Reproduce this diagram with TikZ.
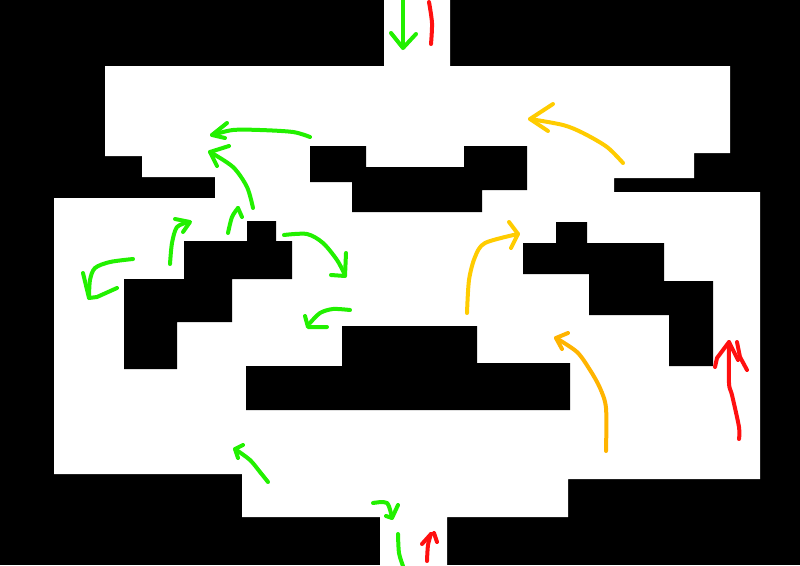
\documentclass[tikz,border=0pt]{standalone}
\definecolor{strokegreen}{HTML}{22F000}
\definecolor{strokeyellow}{HTML}{FFCC00}
\definecolor{strokeorange}{HTML}{FFB400}
\definecolor{strokered}{HTML}{FF1010}
\tikzset{
    wall/.style={fill=black, line join=miter},
    greenstroke/.style={draw=strokegreen, line width=4pt, line cap=round, line join=round},
    yellowstroke/.style={draw=strokeyellow, line width=4pt, line cap=round, line join=round},
    orangestroke/.style={draw=strokeorange, line width=4pt, line cap=round, line join=round},
    redstroke/.style={draw=strokered, line width=4pt, line cap=round, line join=round}
}
\begin{document}
\begin{tikzpicture}[x=1pt, y=-1pt]
    \useasboundingbox (0, 0) rectangle (800, 565);
    % rooms
    \fill[black] (0, 0) rectangle (800, 565);
    \fill[white] (384, 0) -- (450, 0) -- (450, 66) -- (730, 66) -- (730, 153) -- (694, 153) -- (694, 178) -- (614, 178) -- (614, 192) -- (760, 192) -- (760, 479) -- (568, 479) -- (568, 517) -- (447, 517) -- (447, 565) -- (380, 565) -- (380, 517) -- (242, 517) -- (242, 474) -- (54, 474) -- (54, 198) -- (215, 198) -- (215, 177) -- (142, 177) -- (142, 156) -- (105, 156) -- (105, 66) -- (384, 66) -- cycle;
    % blocks
    \fill[wall] (247, 221) -- (276, 221) -- (276, 241) -- (292, 241) -- (292, 279) -- (232, 279) -- (232, 322) -- (177, 322) -- (177, 369) -- (124, 369) -- (124, 279) -- (184, 279) -- (184, 241) -- (247, 241) -- cycle;
    \fill[wall] (310, 146) -- (366, 146) -- (366, 167) -- (464, 167) -- (464, 146) -- (527, 146) -- (527, 190) -- (482, 190) -- (482, 212) -- (352, 212) -- (352, 182) -- (310, 182) -- cycle;
    \fill[wall] (342, 326) -- (477, 326) -- (477, 363) -- (570, 363) -- (570, 410) -- (246, 410) -- (246, 366) -- (342, 366) -- cycle;
    \fill[wall] (556, 222) -- (587, 222) -- (587, 243) -- (664, 243) -- (664, 281) -- (713, 281) -- (713, 366) -- (669, 366) -- (669, 315) -- (589, 315) -- (589, 274) -- (523, 274) -- (523, 243) -- (556, 243) -- cycle;
    % green strokes
    \draw[greenstroke] plot[smooth] coordinates {(310, 137) (293, 132) (260, 130) (233, 130) (212, 135)};
    \draw[greenstroke] (227, 123) -- (212, 135) -- (225, 138);
    \draw[greenstroke] plot[smooth] coordinates {(253, 208) (247, 187) (233, 167) (210, 152)};
    \draw[greenstroke] (229, 146) -- (210, 152) -- (217, 166);
    \draw[greenstroke] plot[smooth] coordinates {(228, 233) (232, 217) (238, 208)};
    \draw[greenstroke] (238, 208) -- (242, 217);
    \draw[greenstroke] plot[smooth] coordinates {(170, 264) (172, 243) (177, 227) (189, 222)};
    \draw[greenstroke] (175, 219) -- (190, 222) -- (183, 232);
    \draw[greenstroke] plot[smooth] coordinates {(133, 259) (110, 262) (95, 268) (90, 280) (89, 298)};
    \draw[greenstroke] (83, 273) -- (89, 298) -- (97, 297) -- (117, 288);
    \draw[greenstroke] plot[smooth] coordinates {(284, 235) (307, 234) (323, 243) (337, 260) (345, 275)};
    \draw[greenstroke] (346, 253) -- (345, 276) -- (331, 275);
    \draw[greenstroke] plot[smooth] coordinates {(350, 310) (333, 309) (320, 313) (310, 323)};
    \draw[greenstroke] (305, 316) -- (308, 327) -- (327, 327);
    \draw[greenstroke] plot[smooth] coordinates {(268, 482) (260, 472) (250, 460) (235, 449)};
    \draw[greenstroke] (243, 445) -- (235, 449) -- (238, 458);
    \draw[greenstroke] plot[smooth] coordinates {(373, 503) (387, 503) (392, 518)};
    \draw[greenstroke] (398, 505) -- (392, 518) -- (386, 516);
    \draw[greenstroke] plot[smooth] coordinates {(398, 534) (399, 553) (403, 566)};
    \draw[greenstroke] (403, -2) -- (403, 47);
    \draw[greenstroke] (391, 33) -- (403, 48) -- (416, 34);
    % yellow strokes
    \draw[yellowstroke] plot[smooth] coordinates {(623, 163) (607, 147) (583, 133) (563, 125) (530, 119)};
    \draw[yellowstroke] (553, 104) -- (530, 119) -- (548, 131);
    \draw[yellowstroke] plot[smooth] coordinates {(467, 313) (469, 280) (475, 257) (485, 243) (518, 234)};
    \draw[yellowstroke] (509, 222) -- (518, 234) -- (511, 248);
    \draw[orangestroke] plot[smooth] coordinates {(606, 451) (606, 408) (600, 388) (590, 370) (577, 352) (556, 338)};
    \draw[orangestroke] (568, 333) -- (556, 338) -- (562, 349);
    % red strokes
    \draw[redstroke] plot[smooth] coordinates {(739, 439) (739, 427) (732, 395) (729, 383) (729, 342)};
    \draw[redstroke] (715, 367) -- (717, 358) -- (729, 342) -- (738, 360);
    \draw[redstroke] (737, 342) -- (740, 357) -- (747, 370);
    \draw[redstroke] plot[smooth] coordinates {(427, 561) (428, 545) (431, 534)};
    \draw[redstroke] (422, 544) -- (431, 534);
    \draw[redstroke] (434, 533) -- (437, 542);
    \draw[redstroke] plot[smooth] coordinates {(429, 2) (432, 23) (431, 44)};
\end{tikzpicture}
\end{document}
